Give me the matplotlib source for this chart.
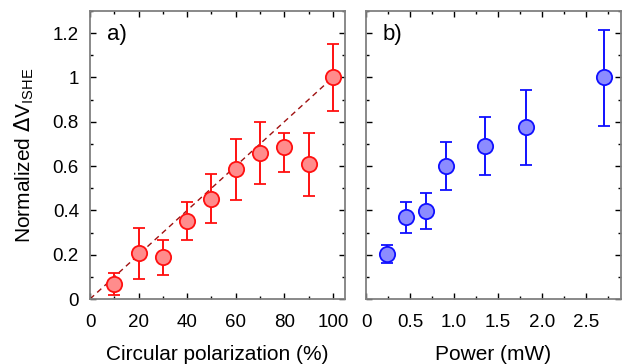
import matplotlib
matplotlib.use("Agg")
import matplotlib.pyplot as plt
from matplotlib.ticker import MultipleLocator
import numpy as np

plt.rcParams['font.family'] = ['Liberation Sans', 'DejaVu Sans']

# Panel a) data
pol = [10, 20, 30, 40, 50, 60, 70, 80, 90, 100]
pol_v = [0.068, 0.206, 0.188, 0.353, 0.453, 0.586, 0.658, 0.685, 0.611, 1.0]
pol_lo = [0.048, 0.116, 0.081, 0.087, 0.108, 0.140, 0.140, 0.113, 0.146, 0.153]
pol_hi = [0.051, 0.115, 0.078, 0.087, 0.112, 0.138, 0.139, 0.066, 0.140, 0.150]
fit_x = [0, 100]
fit_y = [0, 1.0]

# Panel b) data
pw = [0.235, 0.455, 0.68, 0.905, 1.356, 1.815, 2.71]
pw_v = [0.203, 0.369, 0.399, 0.601, 0.691, 0.775, 1.0]
pw_lo = [0.042, 0.070, 0.082, 0.109, 0.131, 0.168, 0.218]
pw_hi = [0.042, 0.068, 0.080, 0.108, 0.129, 0.168, 0.213]

fig = plt.figure(figsize=(6.25, 3.64), dpi=100)
W, H = 625, 364
axa = fig.add_axes([90 / W, 1 - 299 / H, (345 - 90) / W, (299 - 11) / H])
axb = fig.add_axes([366 / W, 1 - 299 / H, (621 - 366) / W, (299 - 11) / H])

fs_tick = 13.5
fs_lab = 15
for ax in (axa, axb):
    for s in ax.spines.values():
        s.set_color('#808080')
        s.set_linewidth(1.3)
    ax.tick_params(which='both', direction='in', top=True, right=True,
                   color='black', labelsize=fs_tick, width=1.0)
    ax.tick_params(which='major', length=4.5)
    ax.tick_params(which='minor', length=2.5)
    ax.tick_params(axis='x', which='major', pad=11)
    ax.tick_params(axis='y', which='major', pad=8)
    ax.set_ylim(0, 1.3)
    ax.yaxis.set_major_locator(MultipleLocator(0.2))
    ax.yaxis.set_minor_locator(MultipleLocator(0.1))

axa.plot(fit_x, fit_y, ls=(0, (4, 3)), color='#a01010', lw=1.0, zorder=1)
axa.errorbar(pol, pol_v, yerr=[pol_lo, pol_hi], fmt='o', ms=11,
             mfc='#ff8c8c', mec='#ff1010', mew=1.3, ecolor='#ff1010',
             elinewidth=1.4, capsize=4, capthick=1.4, zorder=3)
axa.set_xlim(0, 105)
axa.xaxis.set_major_locator(MultipleLocator(20))
axa.xaxis.set_minor_locator(MultipleLocator(10))
axa.set_yticks([0, 0.2, 0.4, 0.6, 0.8, 1.0, 1.2])
axa.set_yticklabels(['0', '0.2', '0.4', '0.6', '0.8', '1', '1.2'])
axa.set_xlabel('Circular polarization (%)', fontsize=fs_lab, labelpad=10)
axa.set_ylabel(r'Normalized $\Delta$V$_{\mathregular{ISHE}}$', fontsize=fs_lab, labelpad=12)
axa.text(0.065, 0.955, 'a)', transform=axa.transAxes, fontsize=16, va='top', ha='left')

axb.errorbar(pw, pw_v, yerr=[pw_lo, pw_hi], fmt='o', ms=11,
             mfc='#8c8cff', mec='#1010ff', mew=1.3, ecolor='#1010ff',
             elinewidth=1.4, capsize=4, capthick=1.4, zorder=3)
axb.set_xlim(0, 2.9)
axb.set_xticks([0, 0.5, 1.0, 1.5, 2.0, 2.5])
axb.set_xticklabels(['0', '0.5', '1.0', '1.5', '2.0', '2.5'])
axb.xaxis.set_minor_locator(MultipleLocator(0.25))
axb.set_yticklabels([])
axb.set_xlabel('Power (mW)', fontsize=fs_lab, labelpad=10)
axb.text(0.065, 0.955, 'b)', transform=axb.transAxes, fontsize=16, va='top', ha='left')

fig.savefig('out.png', dpi=100)
